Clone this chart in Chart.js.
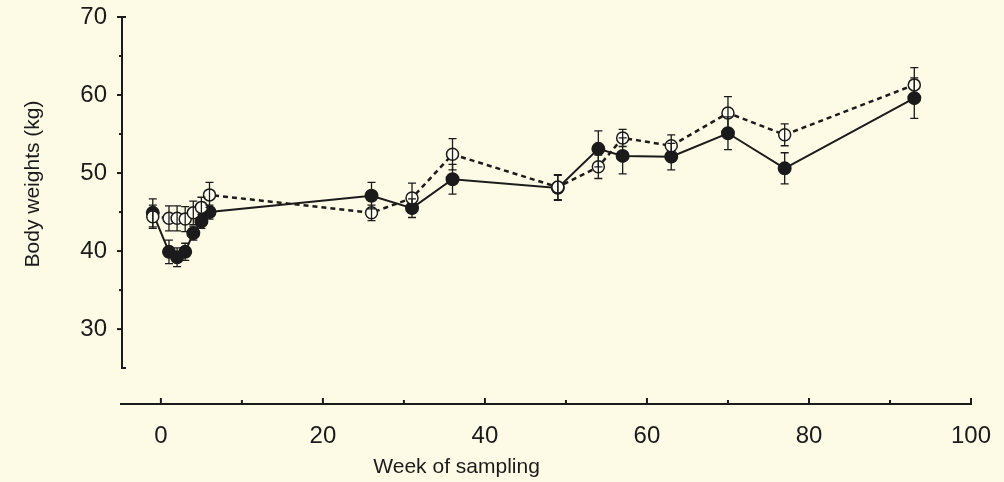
<!DOCTYPE html>
<html>
<head>
<meta charset="utf-8">
<script src="https://cdn.jsdelivr.net/npm/chart.js@4"></script>
<style>
	html, body { margin: 0; padding: 0; background: #fdfbe5; }
	#wrap { width: 1004px; height: 482px; position: relative; }
</style>
</head>
<body>
<div id="wrap"><canvas id="body_weights"></canvas></div>
<script>
// weeks of sampling
const weeks = [-1, 1, 2, 3, 4, 5, 6, 26, 31, 36, 49, 54, 57, 63, 70, 77, 93];
// filled circles, solid line
const filledMean = [44.9, 39.9, 39.2, 39.9, 42.3, 43.8, 45.0, 47.1, 45.5, 49.2, 48.1, 53.1, 52.2, 52.1, 55.1, 50.6, 59.6];
const filledErr = [1.8, 1.5, 1.2, 1.1, 0.9, 0.9, 0.9, 1.7, 1.2, 1.9, 1.6, 2.3, 2.3, 1.7, 2.1, 2.0, 2.6];
// open circles, dashed line
const openMean = [44.4, 44.2, 44.2, 44.1, 44.9, 45.6, 47.2, 44.9, 46.8, 52.4, 48.2, 50.8, 54.5, 53.5, 57.7, 54.9, 61.3];
const openErr = [1.5, 1.6, 1.6, 1.6, 1.5, 1.3, 1.6, 1.0, 1.9, 2.0, 1.6, 1.5, 1.1, 1.4, 2.1, 1.4, 2.2];
// tick labels
const xTicks = [0, 20, 40, 60, 80, 100];
const xMinor = [10, 30, 50, 70, 90];
const yTicks = [30, 40, 50, 60, 70];
const yMinor = [35, 45, 55, 65];
const xTitle = 'Week of sampling';
const yTitle = 'Body weights (kg)';

const INK = '#1b1b1b';
const FONT = "'Liberation Sans', Arial, Helvetica, sans-serif";

const toPoints = (means, errs) => weeks.map((w, i) => ({ x: w, y: means[i], err: errs[i] }));

// error bars, split axes and axis titles (placed like the original figure)
const figurePlugin = {
	id: 'figure',
	afterDatasetsDraw(chart) {
		const ctx = chart.ctx;
		const xs = chart.scales.x;
		const ys = chart.scales.y;
		ctx.save();
		ctx.strokeStyle = INK;
		ctx.lineWidth = 1.3;
		chart.data.datasets.forEach(ds => {
			ds.data.forEach(p => {
				const px = xs.getPixelForValue(p.x);
				const top = ys.getPixelForValue(p.y + p.err);
				const bot = ys.getPixelForValue(p.y - p.err);
				ctx.beginPath();
				ctx.moveTo(px, top);
				ctx.lineTo(px, bot);
				ctx.moveTo(px - 4, top);
				ctx.lineTo(px + 4, top);
				ctx.moveTo(px - 4, bot);
				ctx.lineTo(px + 4, bot);
				ctx.stroke();
			});
		});

		ctx.lineWidth = 2;
		// y axis
		const ax = xs.left;
		const yTop = ys.getPixelForValue(70);
		const yBot = ys.getPixelForValue(25);
		ctx.beginPath();
		ctx.moveTo(ax + 4, yTop);
		ctx.lineTo(ax, yTop);
		ctx.lineTo(ax, yBot);
		ctx.lineTo(ax + 4, yBot);
		ctx.stroke();
		yTicks.forEach(v => {
			const py = ys.getPixelForValue(v);
			ctx.beginPath();
			ctx.moveTo(ax - 5, py);
			ctx.lineTo(ax, py);
			ctx.stroke();
		});
		yMinor.forEach(v => {
			const py = ys.getPixelForValue(v);
			ctx.beginPath();
			ctx.moveTo(ax - 3, py);
			ctx.lineTo(ax, py);
			ctx.stroke();
		});
		// x axis
		const ay = ys.bottom;
		ctx.beginPath();
		ctx.moveTo(xs.left - 2, ay);
		ctx.lineTo(xs.getPixelForValue(100), ay);
		ctx.lineTo(xs.getPixelForValue(100), ay - 6);
		ctx.stroke();
		xTicks.forEach(v => {
			const px = xs.getPixelForValue(v);
			ctx.beginPath();
			ctx.moveTo(px, ay);
			ctx.lineTo(px, ay - 6);
			ctx.stroke();
		});
		xMinor.forEach(v => {
			const px = xs.getPixelForValue(v);
			ctx.beginPath();
			ctx.moveTo(px, ay);
			ctx.lineTo(px, ay - 4);
			ctx.stroke();
		});

		// titles
		ctx.fillStyle = INK;
		ctx.font = '21px ' + FONT;
		ctx.textAlign = 'center';
		ctx.textBaseline = 'middle';
		ctx.fillText(xTitle, xs.getPixelForValue(36.5), 467);
		ctx.translate(33, ys.getPixelForValue(48.6));
		ctx.rotate(-Math.PI / 2);
		ctx.fillText(yTitle, 0, 0);
		ctx.restore();
	}
};

const data_weights = {
	datasets: [
		{
			label: 'open',
			data: toPoints(openMean, openErr),
			borderColor: INK,
			borderWidth: 2.5,
			borderDash: [5, 4],
			backgroundColor: '#fffff4',
			pointBorderColor: INK,
			pointBorderWidth: 1.5,
			pointRadius: 6,
			pointHoverRadius: 6,
			tension: 0,
		},
		{
			label: 'filled',
			data: toPoints(filledMean, filledErr),
			borderColor: INK,
			borderWidth: 2,
			backgroundColor: INK,
			pointBorderColor: INK,
			pointRadius: 6,
			pointHoverRadius: 6,
			tension: 0,
		},
	]
};

const config_weights = {
	type: 'line',
	data: data_weights,
	plugins: [figurePlugin],
	options: {
		responsive: true,
		maintainAspectRatio: false,
		animation: false,
		layout: {
			padding: { top: 17, right: 33 }
		},
		plugins: {
			legend: { display: false },
			title: { display: false },
			tooltip: { enabled: false }
		},
		scales: {
			x: {
				type: 'linear',
				min: -4.8,
				max: 100,
				afterBuildTicks: scale => { scale.ticks = xTicks.map(v => ({ value: v })); },
				afterFit: scale => {
					scale.height = 78;
					scale.paddingLeft = 0;
					scale.paddingRight = 0;
				},
				border: { display: false },
				grid: { display: false, drawTicks: false },
				ticks: {
					padding: 18,
					maxRotation: 0,
					color: INK,
					font: { family: FONT, size: 24 }
				},
				title: { display: false }
			},
			y: {
				type: 'linear',
				min: 20.4,
				max: 70,
				afterBuildTicks: scale => { scale.ticks = yTicks.map(v => ({ value: v })); },
				afterFit: scale => {
					scale.width = 122;
					scale.paddingTop = 0;
					scale.paddingBottom = 0;
				},
				border: { display: false },
				grid: { display: false, drawTicks: false },
				ticks: {
					padding: 15,
					color: INK,
					font: { family: FONT, size: 24 }
				},
				title: { display: false }
			}
		}
	}
};

const body_weights = new Chart(
	document.getElementById('body_weights'),
	config_weights
);
</script>
</body>
</html>
